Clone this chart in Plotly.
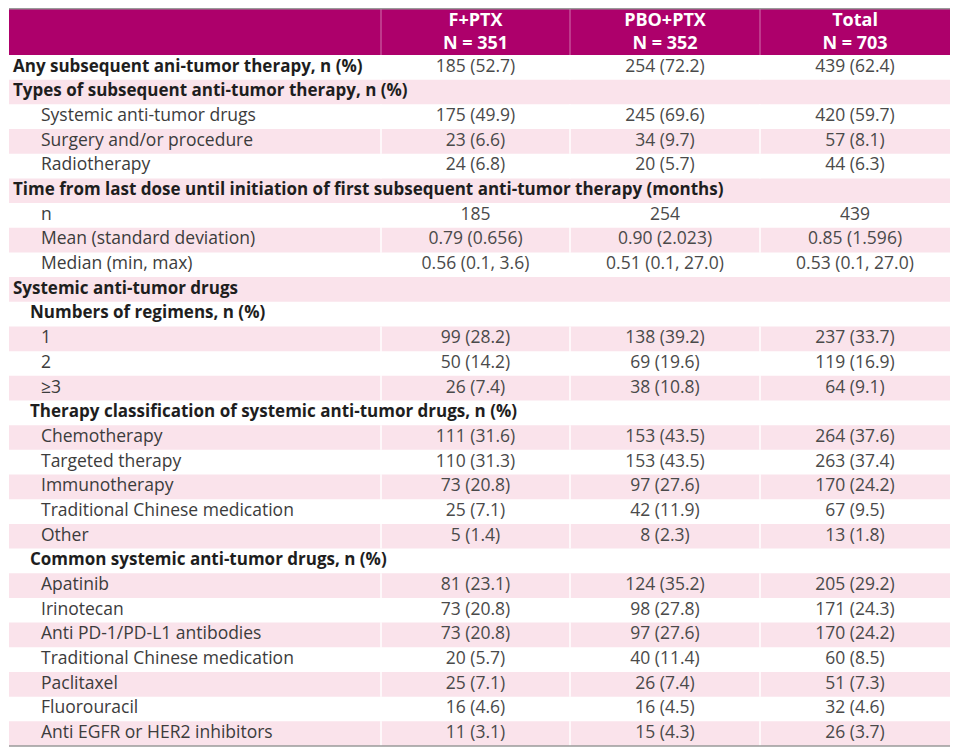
import plotly.graph_objects as go

# ---------------- data ----------------
row_labels = [
    "Any subsequent ani-tumor therapy, n (%)",
    "Types of subsequent anti-tumor therapy, n (%)",
    "Systemic anti-tumor drugs",
    "Surgery and/or procedure",
    "Radiotherapy",
    "Time from last dose until initiation of first subsequent anti-tumor therapy (months)",
    "n",
    "Mean (standard deviation)",
    "Median (min, max)",
    "Systemic anti-tumor drugs",
    "Numbers of regimens, n (%)",
    "1",
    "2",
    "≥3",
    "Therapy classification of systemic anti-tumor drugs, n (%)",
    "Chemotherapy",
    "Targeted therapy",
    "Immunotherapy",
    "Traditional Chinese medication",
    "Other",
    "Common systemic anti-tumor drugs, n (%)",
    "Apatinib",
    "Irinotecan",
    "Anti PD-1/PD-L1 antibodies",
    "Traditional Chinese medication",
    "Paclitaxel",
    "Fluorouracil",
    "Anti EGFR or HER2 inhibitors",
]
# hierarchy level of each row: 0 = section (bold), 1 = subsection (bold), 2 = item
row_level = [0, 0, 2, 2, 2, 0, 2, 2, 2, 0, 1, 2, 2, 2, 1, 2, 2, 2, 2, 2, 1, 2, 2, 2, 2, 2, 2, 2]

col_names = ["F+PTX", "PBO+PTX", "Total"]
col_n = [351, 352, 703]

fptx = ["185 (52.7)", "", "175 (49.9)", "23 (6.6)", "24 (6.8)", "", "185", "0.79 (0.656)",
        "0.56 (0.1, 3.6)", "", "", "99 (28.2)", "50 (14.2)", "26 (7.4)", "", "111 (31.6)",
        "110 (31.3)", "73 (20.8)", "25 (7.1)", "5 (1.4)", "", "81 (23.1)", "73 (20.8)",
        "73 (20.8)", "20 (5.7)", "25 (7.1)", "16 (4.6)", "11 (3.1)"]
pbo_ptx = ["254 (72.2)", "", "245 (69.6)", "34 (9.7)", "20 (5.7)", "", "254", "0.90 (2.023)",
           "0.51 (0.1, 27.0)", "", "", "138 (39.2)", "69 (19.6)", "38 (10.8)", "", "153 (43.5)",
           "153 (43.5)", "97 (27.6)", "42 (11.9)", "8 (2.3)", "", "124 (35.2)", "98 (27.8)",
           "97 (27.6)", "40 (11.4)", "26 (7.4)", "16 (4.5)", "15 (4.3)"]
total = ["439 (62.4)", "", "420 (59.7)", "57 (8.1)", "44 (6.3)", "", "439", "0.85 (1.596)",
         "0.53 (0.1, 27.0)", "", "", "237 (33.7)", "119 (16.9)", "64 (9.1)", "", "264 (37.6)",
         "263 (37.4)", "170 (24.2)", "67 (9.5)", "13 (1.8)", "", "205 (29.2)", "171 (24.3)",
         "170 (24.2)", "60 (8.5)", "51 (7.3)", "32 (4.6)", "26 (3.7)"]
value_cols = [fptx, pbo_ptx, total]

# ---------------- styling / geometry ----------------
FONT = "Open Sans"
FS_BOLD = 17
FS_REG = 17.5
MAGENTA = "#AD006B"
PINK = "#FAE3EB"
W, H = 960, 756
OFF = 8  # page body margin offset
col_edges = [9 - OFF, 381 - OFF, 570 - OFF, 760 - OFF, 950 - OFF]
indent_x = {0: 13 - OFF, 1: 30 - OFF, 2: 41 - OFF}
n_rows = len(row_labels)
header_top_px, header_bot_px, body_bot_px = 0.75, 55 - OFF, 746 - OFF
row_px = (body_bot_px - header_bot_px) / n_rows
y_top = -0.5 - header_bot_px / row_px
y_bot = n_rows - 0.5 + (H - body_bot_px) / row_px


def px_to_row(p):
    return -0.5 - (header_bot_px - p) / row_px


fig = go.Figure()

# alternating pink row bands
pink_rows = [i for i in range(n_rows) if i % 2 == 1]
fig.add_trace(go.Bar(
    orientation="h", y=pink_rows, x=[col_edges[-1] - col_edges[0]] * len(pink_rows),
    base=col_edges[0], width=1, marker=dict(color=PINK, line=dict(width=0)),
    hoverinfo="skip", showlegend=False))

# header background
fig.add_shape(type="rect", xref="x", yref="y", x0=col_edges[0], x1=col_edges[-1],
              y0=px_to_row(0), y1=-0.5, fillcolor=MAGENTA, line_width=0, layer="below")

# column separators (only on rows that carry values)
for i in range(n_rows):
    if fptx[i] == "":
        continue
    for xe in col_edges[1:-1]:
        fig.add_shape(type="line", xref="x", yref="y", x0=xe, x1=xe, y0=i - 0.5, y1=i + 0.5,
                      line=dict(color="white", width=1.5))
for xe in col_edges[1:-1]:
    fig.add_shape(type="line", xref="x", yref="y", x0=xe, x1=xe, y0=px_to_row(0), y1=-0.5,
                  line=dict(color="rgba(255,255,255,0.45)", width=1))

# top & bottom borders
fig.add_shape(type="line", xref="x", yref="y", x0=col_edges[0], x1=col_edges[-1],
              y0=px_to_row(header_top_px), y1=px_to_row(header_top_px),
              line=dict(color="#9a9a9a", width=1.5))
fig.add_shape(type="line", xref="x", yref="y", x0=col_edges[0], x1=col_edges[-1],
              y0=n_rows - 0.5, y1=n_rows - 0.5, line=dict(color="#9a9a9a", width=1.5))

# row labels
for bold in (True, False):
    idx = [i for i in range(n_rows) if (row_level[i] < 2) == bold]
    fig.add_trace(go.Scatter(
        x=[indent_x[row_level[i]] for i in idx], y=idx,
        text=[row_labels[i] for i in idx], mode="text", textposition="middle right",
        textfont=dict(family=FONT, size=FS_BOLD if bold else FS_REG,
                      color="#1e1e1e" if bold else "#3c3c3c",
                      weight="bold" if bold else "normal"),
        hoverinfo="skip", showlegend=False, cliponaxis=False))

# values
centers = [(col_edges[k + 1] + col_edges[k + 2]) / 2 for k in range(3)]
for k, col in enumerate(value_cols):
    fig.add_trace(go.Scatter(
        x=[centers[k]] * n_rows, y=list(range(n_rows)), text=col, mode="text",
        textposition="middle center",
        textfont=dict(family=FONT, size=FS_REG, color="#4a4a4a"),
        hoverinfo="skip", showlegend=False, cliponaxis=False))

# header text
fig.add_trace(go.Scatter(
    x=centers, y=[px_to_row(21 - OFF)] * 3, text=col_names, mode="text", textposition="middle center",
    textfont=dict(family=FONT, size=18, color="white", weight="bold"),
    hoverinfo="skip", showlegend=False, cliponaxis=False))
fig.add_trace(go.Scatter(
    x=centers, y=[px_to_row(44 - OFF)] * 3, text=[f"N = {n}" for n in col_n], mode="text",
    textposition="middle center",
    textfont=dict(family=FONT, size=18, color="white", weight="bold"),
    hoverinfo="skip", showlegend=False, cliponaxis=False))

fig.update_layout(
    width=W, height=H, margin=dict(l=0, r=0, t=0, b=0),
    paper_bgcolor="white", plot_bgcolor="white", hovermode=False, showlegend=False,
    xaxis=dict(range=[0, W], visible=False, fixedrange=True),
    yaxis=dict(range=[y_bot, y_top], visible=False, fixedrange=True),
)

fig.write_html("out.html")
